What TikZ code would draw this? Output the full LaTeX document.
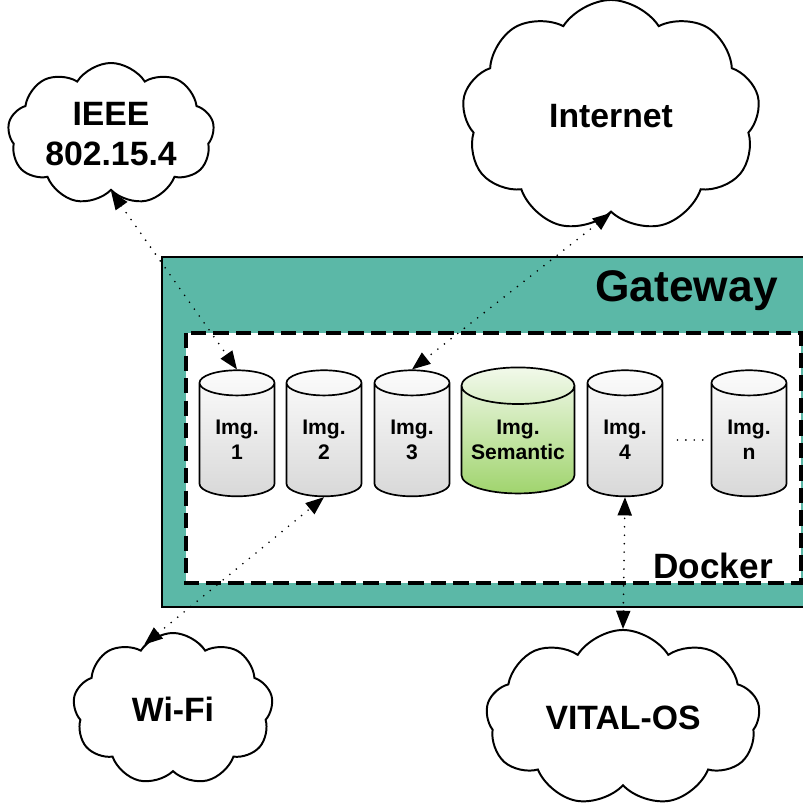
\documentclass[tikz,border=0pt]{standalone}
\usepackage{fontspec}
\setmainfont{Liberation Sans}
\usetikzlibrary{shapes.geometric,shapes.symbols,arrows.meta}
\definecolor{gwteal}{RGB}{91,184,167}
\definecolor{imgtop}{RGB}{252,252,252}
\definecolor{imgbot}{RGB}{216,216,216}
\definecolor{semtop}{RGB}{242,249,235}
\definecolor{sembot}{RGB}{160,212,110}
\tikzset{
	img/.style={cylinder, shape border rotate=90, draw, line width=1.2pt, aspect=0.58,
		minimum width=1.875cm, minimum height=3.15cm, align=center, inner sep=0pt,
		top color=imgtop, bottom color=imgbot, font=\bfseries\fontsize{15}{18}\selectfont},
	semimg/.style={img, aspect=0.39, minimum width=2.825cm, top color=semtop, bottom color=sembot},
	net/.style={cloud, cloud puffs=9, cloud puff arc=115, cloud ignores aspect, draw,
		line width=1.4pt, fill=white, align=center, font=\bfseries\fontsize{24}{29}\selectfont},
	link/.style={line width=1.3pt, dash pattern=on 0pt off 6pt, line cap=round,
		{Triangle[length=13pt,width=10pt]}-{Triangle[length=13pt,width=10pt]}}
}

\begin{document}
\begin{tikzpicture}[x=0.025cm, y=-0.025cm]
		%%%%% START %%%%%
		\useasboundingbox (0, 0) rectangle (803, 805);
		
		% gateway and docker boxes
		\draw[line width=1.5pt, fill=gwteal] (162, 257) rectangle (830, 607);
		\draw[line width=2.2pt, fill=white, dash pattern=on 11pt off 5pt] (186, 333) rectangle (801, 583);
		\node[anchor=east, inner sep=0pt, font=\bfseries\fontsize{31.5}{36}\selectfont] (gw) at (778, 291) {Gateway};
		\node[anchor=east, inner sep=0pt, font=\bfseries\fontsize{25}{30}\selectfont] (dk) at (773, 566) {Docker};
		
		% images
		\node[img] (i1) at (237, 440) {Img.\\1};
		\node[img] (i2) at (324, 440) {Img.\\2};
		\node[img] (i3) at (412, 440) {Img.\\3};
		\node[semimg] (is) at (518, 440) {Img.\\Semantic};
		\node[img] (i4) at (625, 440) {Img.\\4};
		\node[img] (in) at (749, 440) {Img.\\n};
		\draw[line width=1.3pt, dash pattern=on 0pt off 6pt, line cap=round, shorten <=10pt, shorten >=4pt] (i4.east) -- (in.west);
		
		% networks
		\node[net, minimum width=4.95cm, minimum height=3.55cm] (ieee) at (111, 134) {IEEE\\802.15.4};
		\node[net, minimum width=7.45cm, minimum height=5.8cm] (inet) at (611, 116) {Internet};
		\node[net, minimum width=5cm, minimum height=3.8cm] (wifi) at (173, 709) {Wi-Fi};
		\node[net, minimum width=6.85cm, minimum height=4.4cm] (vital) at (623, 718) {VITAL-OS};
		
		% links
		\draw[link] (ieee.south) -- (i1.north);
		\draw[link] (inet.south) -- (i3.north);
		\draw[link] (wifi.114) -- (i2.south);
		\draw[link] (vital.north) -- (i4.south);
		%%%%% END %%%%%
	\end{tikzpicture}
\end{document}
